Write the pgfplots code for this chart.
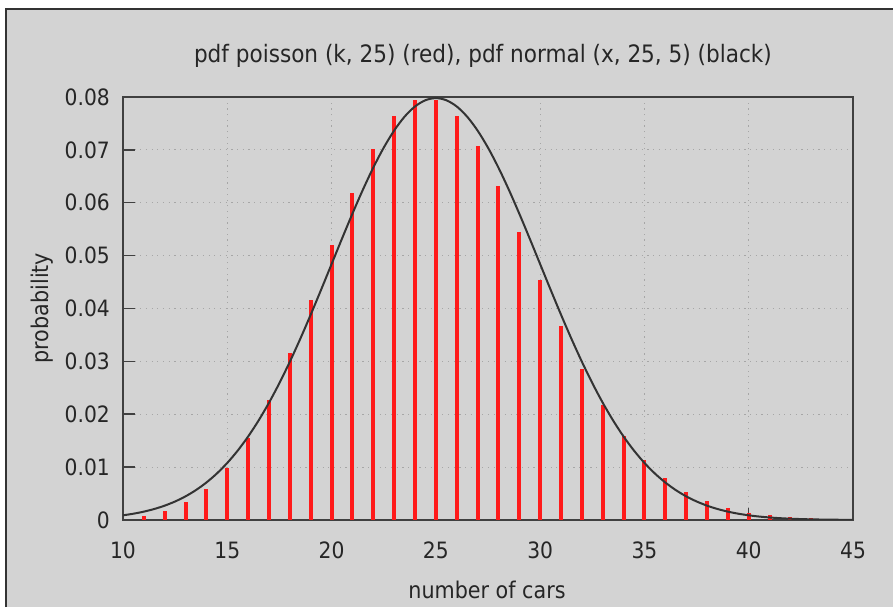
\documentclass[border=0pt]{standalone}
\usepackage{pgfplots}
\pgfplotsset{compat=1.18}
\usepackage{fontspec}
\setmainfont{DejaVu Sans Condensed}
\definecolor{bggray}{HTML}{D3D3D3}
\definecolor{axisc}{HTML}{404040}
\definecolor{txt}{HTML}{262626}
\definecolor{gridc}{HTML}{A6A6A6}
\definecolor{curvec}{HTML}{333333}
\definecolor{combred}{HTML}{FF1A1A}

\begin{document}
\begin{tikzpicture}
\useasboundingbox (0,0) rectangle (893pt,607pt);
\fill[white] (0,0) rectangle (893pt,607pt);
\fill[bggray] (6pt,0) rectangle (893pt,598pt);
\draw[curvec, line width=1.5pt] (6pt,0) -- (6pt,598pt) -- (893pt,598pt);

\begin{axis}[
    at={(123pt,87pt)}, anchor=south west,
    scale only axis,
    width=730pt, height=423pt,
    xmin=10, xmax=45, ymin=0, ymax=0.08,
    xtick={10,15,20,25,30,35,40,45},
    xticklabels={10,15,20,25,30,35,40,45},
    ytick={0,0.01,0.02,0.03,0.04,0.05,0.06,0.07,0.08},
    yticklabels={0,0.01,0.02,0.03,0.04,0.05,0.06,0.07,0.08},
    scaled y ticks=false,
    xtick pos=bottom, ytick pos=left,
    tick align=inside,
    major tick length=12pt,
    grid=major,
    grid style={gridc, line width=1pt, dash pattern=on 1.2pt off 4.5pt},
    axis line style={axisc, line width=1.5pt},
    major tick style={axisc, line width=1.5pt},
    /pgf/number format/assume math mode=true,
    tick label style={font=\fontsize{22.5}{26}\selectfont, text=txt},
    xticklabel style={anchor=base, inner sep=0pt, yshift=-38pt},
    yticklabel style={anchor=east, inner sep=0pt, xshift=-13pt},
    clip=true,
]
% Poisson(25) probabilities
\addplot[ycomb, combred, line width=4pt, no markers] coordinates {
    (11,0.000829) (12,0.001728) (13,0.003323) (14,0.005934) (15,0.009890)
    (16,0.015454) (17,0.022726) (18,0.031564) (19,0.041532) (20,0.051915)
    (21,0.061803) (22,0.070231) (23,0.076338) (24,0.079519) (25,0.079519)
    (26,0.076461) (27,0.070797) (28,0.063212) (29,0.054493) (30,0.045411)
    (31,0.036622) (32,0.028611) (33,0.021675) (34,0.015937) (35,0.011384)
    (36,0.007906) (37,0.005342) (38,0.003514) (39,0.002253) (40,0.001408)
    (41,0.000859) (42,0.000511) (43,0.000297) (44,0.000169)
};
% Normal(25,5) density
\addplot[smooth, curvec, line width=2pt, no markers] coordinates {
    (10,0.000886) (10.5,0.001191) (11,0.001583) (11.5,0.002084) (12,0.002717)
    (12.5,0.003506) (13,0.004479) (13.5,0.005665) (14,0.007095) (14.5,0.008797)
    (15,0.010798) (15.5,0.013123) (16,0.015790) (16.5,0.018810) (17,0.022184)
    (17.5,0.025904) (18,0.029945) (18.5,0.034274) (19,0.038837) (19.5,0.043570)
    (20,0.048394) (20.5,0.053217) (21,0.057938) (21.5,0.062451) (22,0.066645)
    (22.5,0.070413) (23,0.073654) (23.5,0.076278) (24,0.078209) (24.5,0.079390)
    (25,0.079788) (25.5,0.079390) (26,0.078209) (26.5,0.076278) (27,0.073654)
    (27.5,0.070413) (28,0.066645) (28.5,0.062451) (29,0.057938) (29.5,0.053217)
    (30,0.048394) (30.5,0.043570) (31,0.038837) (31.5,0.034274) (32,0.029945)
    (32.5,0.025904) (33,0.022184) (33.5,0.018810) (34,0.015790) (34.5,0.013123)
    (35,0.010798) (35.5,0.008797) (36,0.007095) (36.5,0.005665) (37,0.004479)
    (37.5,0.003506) (38,0.002717) (38.5,0.002084) (39,0.001583) (39.5,0.001191)
    (40,0.000886) (40.5,0.000653) (41,0.000477) (41.5,0.000345) (42,0.000246)
    (42.5,0.000175) (43,0.000122) (43.5,0.000085) (44,0.000059) (44.5,0.000040)
    (45,0.000027)
};
\end{axis}

\node[anchor=base, text=txt, font=\fontsize{24}{28}\selectfont, inner sep=0pt]
    at (483pt,544pt) {pdf poisson (k, 25) (red), pdf normal (x, 25, 5) (black)};
\node[anchor=base, text=txt, font=\fontsize{23}{27}\selectfont, inner sep=0pt]
    at (487pt,9pt) {number of cars};
\node[anchor=base, rotate=90, text=txt, font=\fontsize{23}{27}\selectfont, inner sep=0pt]
    at (48pt,299pt) {probability};
\end{tikzpicture}
\end{document}
